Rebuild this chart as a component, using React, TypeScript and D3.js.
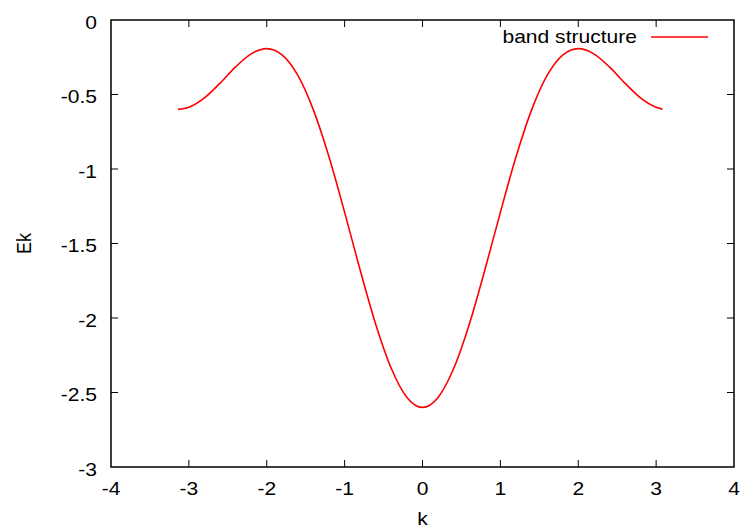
import React from "react";
import * as d3 from "d3";

// band structure samples
const kValues = [-3.14, -3.0, -2.8, -2.6, -2.4, -2.2, -2.0, -1.8, -1.6, -1.4, -1.2, -1.0, -0.8, -0.6, -0.4, -0.2, 0,
  0.2, 0.4, 0.6, 0.8, 1.0, 1.2, 1.4, 1.6, 1.8, 2.0, 2.2, 2.4, 2.6, 2.8, 3.0, 3.08];
const ekValues = [-0.6, -0.586, -0.523, -0.424, -0.315, -0.227, -0.192, -0.235, -0.372, -0.605, -0.92, -1.291, -1.679,
  -2.043, -2.339, -2.533, -2.6, -2.533, -2.339, -2.043, -1.679, -1.291, -0.92, -0.605, -0.372, -0.235, -0.192, -0.227,
  -0.315, -0.424, -0.523, -0.586, -0.598];
const xTicks = [-4, -3, -2, -1, 0, 1, 2, 3, 4];
const yTicks = [0, -0.5, -1, -1.5, -2, -2.5, -3];
const seriesName = "band structure";

const W = 743;
const H = 528;
const left = 111, right = 734, top = 20, bottom = 467;
const font = "'Liberation Sans', Arial, sans-serif";
const sx = 1.17; // text in the picture is a bit stretched sideways

const App = () => {
  const x = d3.scaleLinear().domain([-4, 4]).range([left, right]);
  const y = d3.scaleLinear().domain([-3, 0]).range([bottom, top]);

  const pts = kValues.map((k, i) => [k, ekValues[i]] as [number, number]);
  const line = d3
    .line<[number, number]>()
    .x((d) => x(d[0]))
    .y((d) => y(d[1]))
    .curve(d3.curveMonotoneX);

  const tl = 7;

  return (
    <svg width={W} height={H} style={{ position: "absolute", left: 0, top: 0, background: "#fff" }}
      fontFamily={font} fontSize={18}>
      {/* ticks, mirrored on all sides */}
      <g stroke="#000" strokeWidth={1}>
        {xTicks.slice(1, -1).map((t) => (
          <g key={"x" + t}>
            <line x1={x(t)} x2={x(t)} y1={bottom} y2={bottom - tl} />
            <line x1={x(t)} x2={x(t)} y1={top} y2={top + tl} />
          </g>
        ))}
        {yTicks.slice(1, -1).map((t) => (
          <g key={"y" + t}>
            <line x1={left} x2={left + tl} y1={y(t)} y2={y(t)} />
            <line x1={right} x2={right - tl} y1={y(t)} y2={y(t)} />
          </g>
        ))}
      </g>
      <rect x={left} y={top} width={right - left} height={bottom - top} fill="none" stroke="#000" strokeWidth={1.5} />

      {xTicks.map((t) => (
        <text key={"xl" + t} transform={`translate(${x(t)},${bottom + 28}) scale(${sx},1)`} textAnchor="middle">
          {String(t)}
        </text>
      ))}
      {yTicks.map((t) => (
        <text key={"yl" + t} transform={`translate(${left - 14},${y(t) + 8.5}) scale(${sx},1)`} textAnchor="end">
          {String(t)}
        </text>
      ))}

      <text transform={`translate(${(left + right) / 2},${H - 3}) scale(${sx},1)`} textAnchor="middle">k</text>
      <text transform={`translate(31,${(top + bottom) / 2}) scale(${sx},1) rotate(-90)`} textAnchor="middle">Ek</text>

      <path d={line(pts) || ""} fill="none" stroke="#ff0000" strokeWidth={1.6} />

      {/* legend */}
      <text transform={`translate(637,43) scale(${sx},1)`} textAnchor="end">{seriesName}</text>
      <line x1={651} x2={708} y1={37} y2={37} stroke="#ff0000" strokeWidth={1.6} />
    </svg>
  );
};

export default App;
